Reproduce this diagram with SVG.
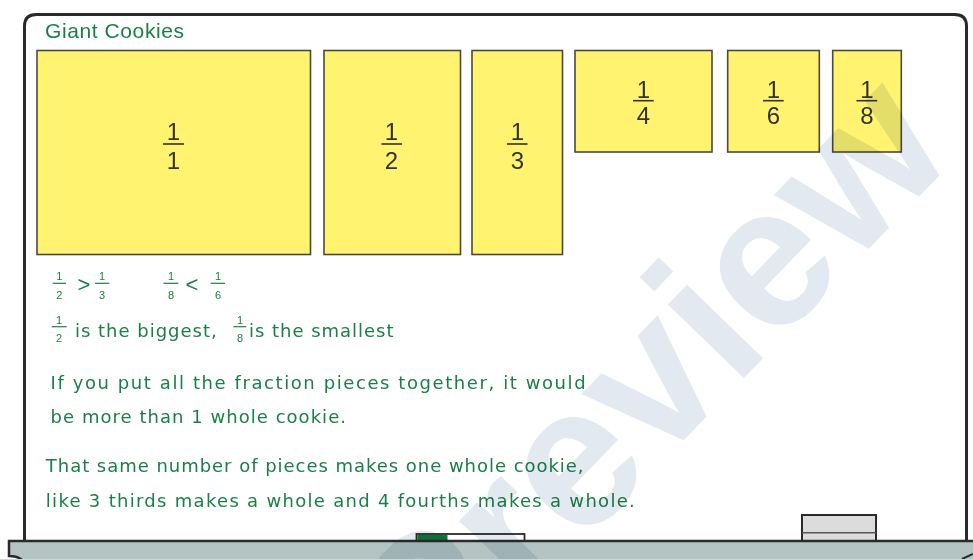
<svg xmlns="http://www.w3.org/2000/svg" width="973" height="559" viewBox="0 0 973 559">
<defs>
<style>
.card{fill:#fff370;stroke:#4a4a40;stroke-width:1.6}
.dig{font-family:"Liberation Sans",Arial,sans-serif;font-size:24px;fill:#333;text-anchor:middle}
.bar{stroke:#333;stroke-width:1.6}
.g{font-family:"Liberation Sans",Arial,sans-serif;fill:#1b8046}
.txt{font-family:"DejaVu Sans",sans-serif;font-size:18px}
.sm{font-size:11px;text-anchor:middle}
.gbar{stroke:#1b8046;stroke-width:1.2}
.op{font-size:22px;text-anchor:middle}
</style>
</defs>
<rect width="973" height="559" fill="#fff"/>
<g id="board">
<path d="M24.5,541 V26 Q24.5,14.5 36.5,14.5 H954.5 Q966.5,14.5 966.5,26 V541" fill="#fff" stroke="#2a2a2a" stroke-width="3"/>
</g>
<g id="title"><text class="g" x="45" y="38" font-size="21" textLength="139">Giant Cookies</text></g>
<g id="card-1">
<rect class="card" x="37" y="50.5" width="273.5" height="204"/>
<text class="dig" x="173.5" y="140">1</text>
<line class="bar" x1="163" y1="144" x2="184" y2="144"/>
<text class="dig" x="173.5" y="168.5">1</text>
</g>
<g id="card-2">
<rect class="card" x="324" y="50.5" width="136.5" height="204"/>
<text class="dig" x="391.5" y="140">1</text>
<line class="bar" x1="381.5" y1="144" x2="402" y2="144"/>
<text class="dig" x="391.5" y="169">2</text>
</g>
<g id="card-3">
<rect class="card" x="472" y="50.5" width="90.5" height="204"/>
<text class="dig" x="517.5" y="140">1</text>
<line class="bar" x1="507" y1="144" x2="527.5" y2="144"/>
<text class="dig" x="517.5" y="169">3</text>
</g>
<g id="card-4">
<rect class="card" x="575" y="50.5" width="137" height="101.5"/>
<text class="dig" x="643.5" y="98">1</text>
<line class="bar" x1="633" y1="100.7" x2="653.7" y2="100.7"/>
<text class="dig" x="643.5" y="124">4</text>
</g>
<g id="card-6">
<rect class="card" x="727.7" y="50.5" width="91.6" height="101.5"/>
<text class="dig" x="773.5" y="98">1</text>
<line class="bar" x1="763" y1="100.7" x2="783.7" y2="100.7"/>
<text class="dig" x="773.5" y="124">6</text>
</g>
<g id="card-8">
<rect class="card" x="832.7" y="50.5" width="68.6" height="101.5"/>
<text class="dig" x="867" y="98">1</text>
<line class="bar" x1="856.5" y1="100.7" x2="877.2" y2="100.7"/>
<text class="dig" x="867" y="124">8</text>
</g>
<g id="compare-1">
<text class="g sm" x="59.3" y="279.5">1</text>
<line class="gbar" x1="52.7" y1="283.3" x2="66" y2="283.3"/>
<text class="g sm" x="59.3" y="298.5">2</text>
<text class="g op" x="84" y="291.5">&gt;</text>
<text class="g sm" x="102" y="279.5">1</text>
<line class="gbar" x1="95" y1="283.3" x2="109.3" y2="283.3"/>
<text class="g sm" x="102" y="298.5">3</text>
</g>
<g id="compare-2">
<text class="g sm" x="171" y="279.5">1</text>
<line class="gbar" x1="163.5" y1="283.3" x2="178.3" y2="283.3"/>
<text class="g sm" x="171" y="298.5">8</text>
<text class="g op" x="192" y="291.5">&lt;</text>
<text class="g sm" x="218" y="279.5">1</text>
<line class="gbar" x1="210.7" y1="283.3" x2="225" y2="283.3"/>
<text class="g sm" x="218" y="298.5">6</text>
</g>
<g id="line-2">
<text class="g sm" x="59" y="323.5">1</text>
<line class="gbar" x1="51.7" y1="326.7" x2="66.7" y2="326.7"/>
<text class="g sm" x="59" y="342.3">2</text>
<text class="g txt" x="75" y="336.7" textLength="141.7">is the biggest,</text>
<text class="g sm" x="240" y="323.5">1</text>
<line class="gbar" x1="233.3" y1="326.7" x2="246.3" y2="326.7"/>
<text class="g sm" x="240" y="342.3">8</text>
<text class="g txt" x="249" y="336.7" textLength="144.5">is the smallest</text>
</g>
<g id="paragraph-1">
<text class="g txt" x="50.6" y="389.3" textLength="535">If you put all the fraction pieces together, it would</text>
<text class="g txt" x="50.6" y="423.3" textLength="295.4">be more than 1 whole cookie.</text>
</g>
<g id="paragraph-2">
<text class="g txt" x="45.8" y="471.7" textLength="537.8">That same number of pieces makes one whole cookie,</text>
<text class="g txt" x="45.8" y="506.7" textLength="589">like 3 thirds makes a whole and 4 fourths makes a whole.</text>
</g>
<g id="marker">
<rect x="416.5" y="534" width="108" height="7" fill="#fff" stroke="#2a2a2a" stroke-width="1.8"/>
<rect x="417.5" y="535" width="30" height="5" fill="#0f7a3c"/>
</g>
<g id="eraser">
<rect x="802" y="515" width="74" height="26" fill="#dcdcdc" stroke="#2a2a2a" stroke-width="2"/>
<line x1="802" y1="532.7" x2="876" y2="532.7" stroke="#555" stroke-width="1.5"/>
</g>
<g id="ledge">
<path d="M9,541 H975 V560 H22 Q18,556 9,556 Z" fill="#b3c4c3"/>
<path d="M975,541 H9 V556 Q18,556 22,560" fill="none" stroke="#2a2a2a" stroke-width="2.5"/>
<path d="M962,559 L973,554" stroke="#2a2a2a" stroke-width="2"/>
</g>
<text x="433" y="700" transform="rotate(-46 433 700)" font-family="Liberation Sans, Arial, sans-serif" font-weight="bold" font-size="200" fill="#e3e9f0" style="mix-blend-mode:multiply">Preview</text>
</svg>
